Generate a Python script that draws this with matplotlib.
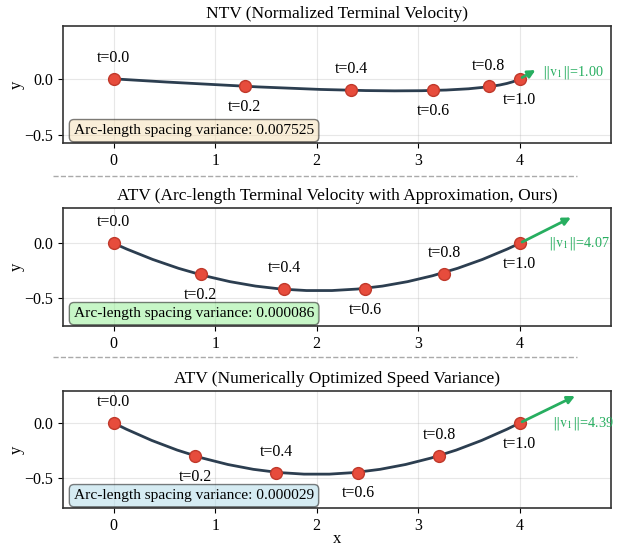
import matplotlib
matplotlib.use('Agg')
import matplotlib.pyplot as plt
from matplotlib.path import Path
from matplotlib.patches import PathPatch

plt.rcParams['font.family'] = ['Liberation Serif', 'DejaVu Serif']
plt.rcParams['mathtext.fontset'] = 'stix'

# panel titles / labels
titles = ['NTV (Normalized Terminal Velocity)',
          'ATV (Arc-length Terminal Velocity with Approximation, Ours)',
          'ATV (Numerically Optimized Speed Variance)']
t_labels = ['t=0.0', 't=0.2', 't=0.4', 't=0.6', 't=0.8', 't=1.0']
variances = ['0.007525', '0.000086', '0.000029']
speeds = ['1.00', '4.07', '4.39']
box_colors = ['wheat', 'lightgreen', 'lightblue']

# sampled points at t = 0, 0.2, ..., 1.0
ntv_x = [0.0, 1.29, 2.34, 3.145, 3.697, 4.0]
ntv_y = [0.0, -0.064, -0.100, -0.100, -0.067, 0.0]
atv_x = [0.0, 0.855, 1.678, 2.479, 3.256, 4.0]
atv_y = [0.0, -0.276, -0.412, -0.412, -0.276, 0.0]
opt_x = [0.0, 0.805, 1.603, 2.408, 3.206, 4.0]
opt_y = [0.0, -0.298, -0.449, -0.449, -0.298, 0.0]

# bezier control points of each trajectory
ntv_ctrl = [(0.0, 0.0), (1.3, -0.07), (3.6, -0.2), (4.0, 0.0)]
atv_ctrl = [(0.0, 0.0), (2.05, -0.86), (4.0, 0.0)]
opt_ctrl = [(0.0, 0.0), (2.0, -0.93), (4.0, 0.0)]

# terminal velocity arrows (dx, dy) and label spots
arrow_d = [(0.18, 0.09), (0.53, 0.245), (0.57, 0.255)]
speed_pos = [(4.52, 0.06), (4.58, 0.0), (4.62, 0.0)]
ylims = [(-0.57, 0.47), (-0.75, 0.32), (-0.77, 0.29)]

pts = [(ntv_x, ntv_y), (atv_x, atv_y), (opt_x, opt_y)]
ctrls = [ntv_ctrl, atv_ctrl, opt_ctrl]

fig = plt.figure(figsize=(6.25, 5.47), dpi=100)
rects = [[0.1008, 0.7386, 0.8768, 0.2139],
         [0.1008, 0.4040, 0.8768, 0.2157],
         [0.1008, 0.0713, 0.8768, 0.2139]]

for i in range(3):
    ax = fig.add_axes(rects[i])
    c = ctrls[i]
    code = Path.CURVE4 if len(c) == 4 else Path.CURVE3
    path = Path(c, [Path.MOVETO] + [code] * (len(c) - 1))
    ax.add_patch(PathPatch(path, fc='none', ec='#2c3e50', lw=2, zorder=2))
    px, py = pts[i]
    ax.plot(px, py, 'o', color='#e74c3c', mec='#c0392b', mew=1, ms=8.5, zorder=3)
    for j, lab in enumerate(t_labels):
        off = 15 if j % 2 == 0 else -15
        ax.annotate(lab, (px[j], py[j]), xytext=(0, off), textcoords='offset points',
                    ha='center', va='center', fontsize=11.5)
    dx, dy = arrow_d[i]
    ax.annotate('', xy=(px[-1] + dx, py[-1] + dy), xytext=(px[-1], py[-1]),
                arrowprops=dict(arrowstyle='-|>', color='#27ae60', lw=2, mutation_scale=11),
                zorder=4)
    sx, sy = speed_pos[i]
    ax.text(sx, sy, r'$\Vert\mathrm{v}_1\Vert$=' + speeds[i], color='#27ae60',
            fontsize=10.2, ha='center', va='center')
    ax.text(0.02, 0.05, 'Arc-length spacing variance: ' + variances[i],
            transform=ax.transAxes, fontsize=11.1, va='bottom',
            bbox=dict(boxstyle='round', facecolor=box_colors[i], alpha=0.5))
    ax.set_xlim(-0.5, 4.9)
    ax.set_ylim(*ylims[i])
    ax.set_xticks([0, 1, 2, 3, 4])
    ax.set_yticks([-0.5, 0.0])
    ax.tick_params(labelsize=11.5)
    ax.grid(True, alpha=0.3)
    for s in ax.spines.values():
        s.set_color('#333333')
        s.set_linewidth(1.2)
    ax.set_title(titles[i], fontsize=12.5, pad=6)
    ax.set_ylabel('y', fontsize=12, labelpad=0)
    if i == 2:
        ax.set_xlabel('x', fontsize=12, labelpad=-2)

# dashed separators between panels
for y in [0.678, 0.3473]:
    fig.add_artist(plt.Line2D([0.085, 0.923], [y, y], transform=fig.transFigure,
                              color='#aaaaaa', ls='--', lw=1))

fig.savefig('out.png', dpi=100)
